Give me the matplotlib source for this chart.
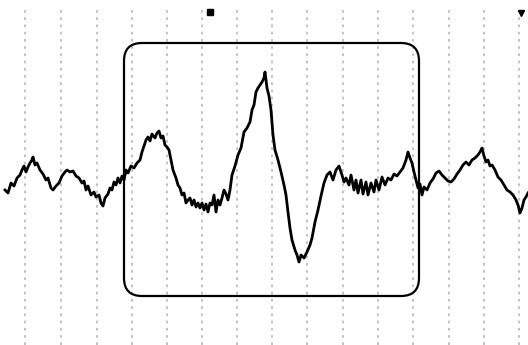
import numpy as np
from matplotlib import pyplot as plt
from matplotlib.patches import FancyBboxPatch

# trace, sample position and screen row (px from top)
trace_x = [5, 8, 11, 14, 17, 20, 22, 24, 26, 28, 30, 32, 33, 35, 37, 40, 43, 46, 48, 51, 53, 56, 59, 62, 65, 67, 70, 73, 76, 79,
           82, 84, 86, 88, 91, 94, 96, 99, 101, 103, 105, 108, 110, 112, 114, 116, 118, 120, 122, 124, 126, 128, 131, 134, 137,
           140, 142, 144, 146, 148, 150, 152, 155, 157, 159, 161, 163, 165, 167, 169, 171, 173, 176, 178, 180, 182, 184, 186,
           188, 190, 192, 194, 196, 198, 200, 202, 204, 206, 208, 210, 212, 214, 216, 218, 220, 222, 224, 226, 228, 230, 232,
           235, 238, 241, 244, 247, 250, 252, 254, 256, 258, 260, 262, 264, 265, 267, 269, 271, 273, 275, 278, 281, 284, 286,
           288, 290, 292, 295, 297, 299, 301, 304, 307, 310, 312, 315, 318, 321, 324, 327, 330, 333, 336, 339, 342, 344, 346,
           349, 351, 354, 356, 358, 361, 363, 366, 368, 371, 374, 376, 379, 382, 385, 388, 391, 394, 397, 400, 403, 406, 408,
           410, 412, 414, 416, 418, 420, 422, 424, 427, 430, 433, 436, 439, 442, 445, 448, 451, 454, 457, 460, 463, 466, 469,
           472, 475, 478, 480, 482, 484, 486, 488, 490, 492, 495, 498, 501, 504, 507, 510, 513, 516, 518, 520, 522, 524, 526, 528]
trace_y = [190, 193, 183, 186, 178, 175, 170, 166, 172, 167, 163, 160, 157, 165, 163, 170, 174, 180, 178, 188, 190, 186, 183, 176, 172, 170, 172, 171, 176, 178,
           183, 181, 190, 186, 195, 192, 197, 195, 203, 206, 198, 194, 188, 190, 182, 185, 178, 183, 176, 180, 170, 173, 166, 168, 163,
           160, 152, 146, 140, 137, 141, 134, 138, 133, 131, 138, 136, 145, 147, 150, 160, 170, 178, 185, 188, 195, 193, 203,
           200, 198, 205, 200, 207, 203, 208, 203, 210, 204, 212, 203, 205, 195, 212, 200, 205, 198, 190, 194, 200, 190, 175,
           166, 155, 148, 132, 128, 122, 110, 105, 92, 88, 85, 82, 78, 72, 88, 96, 110, 135, 150, 160, 172, 185, 195,
           212, 228, 240, 250, 255, 262, 255, 258, 252, 245, 238, 222, 210, 196, 183, 175, 172, 180, 170, 166, 175, 182, 178,
           185, 175, 190, 180, 193, 180, 194, 182, 195, 183, 192, 180, 190, 177, 185, 178, 180, 174, 176, 172, 168, 160, 152,
           158, 163, 172, 180, 188, 184, 195, 187, 190, 183, 179, 173, 171, 175, 178, 181, 182, 179, 174, 170, 165, 162, 165,
           160, 158, 155, 152, 148, 156, 162, 160, 166, 165, 170, 177, 180, 185, 190, 192, 195, 200, 205, 213, 208, 200, 197, 193]

grid_x = [25, 61, 97, 132, 167, 202, 237, 272, 307, 343, 378, 413, 449, 484, 519]
box = (124, 43, 419, 296)  # left, top, right, bottom

fig = plt.figure(figsize=(5.28, 3.45), dpi=100)
ax = fig.add_axes([0, 0, 1, 1])
ax.set_xlim(0, 528)
ax.set_ylim(345, 0)
ax.axis('off')

for gx in grid_x:
    ax.axvline(gx, ymin=0, ymax=0.975, color='#bdbdbd', lw=1.3, ls=(0, (1.5, 2.5)), zorder=1)

l, t, r, b = box
ax.add_patch(FancyBboxPatch((l, t), r - l, b - t, boxstyle='round,pad=0,rounding_size=18',
                            fill=False, ec='black', lw=1.6, zorder=2))

ax.plot(trace_x, trace_y, color='black', lw=2.0, zorder=3)

# small marks at the top edge
ax.plot([210], [12], marker='s', ms=4, color='black', zorder=3)
ax.plot([521], [13], marker='v', ms=4.5, color='black', zorder=3)

plt.savefig('out.png', dpi=100)
